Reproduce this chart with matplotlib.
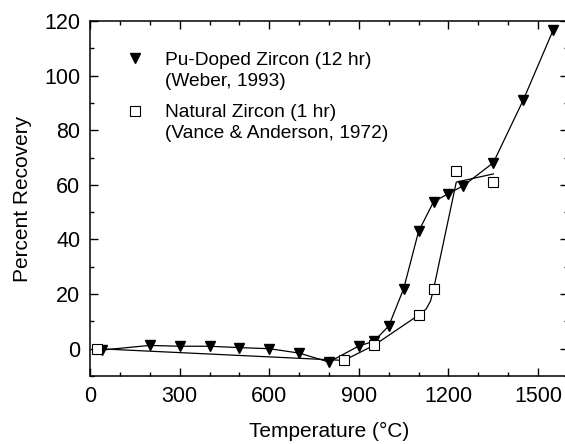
"""Percent recovery vs. annealing temperature for zircon."""

import matplotlib
matplotlib.use("Agg")
import matplotlib.pyplot as plt
from matplotlib.legend_handler import HandlerLine2D
from matplotlib.ticker import MultipleLocator

# Pu-doped zircon, 12 hr anneal (Weber, 1993)
pu_temp = [40, 200, 300, 400, 500, 600, 700, 800, 900, 950, 1000, 1050,
           1100, 1150, 1200, 1250, 1350, 1450, 1550]
pu_recovery = [-0.5, 1.2, 0.9, 0.9, 0.4, 0.0, -1.6, -4.9, 1.0, 2.7, 8.3, 22.0,
               43.0, 53.8, 56.8, 59.7, 68.1, 91.0, 116.6]

# natural zircon, 1 hr anneal (Vance & Anderson, 1972)
nat_temp = [25, 850, 950, 1100, 1150, 1225, 1350]
nat_recovery = [0.0, -4.3, 1.2, 12.3, 21.8, 65.0, 61.0]

# hand-drawn trend line through the natural zircon data
nat_fit_temp = [25, 850, 950, 1100, 1125, 1140, 1150, 1226, 1350]
nat_fit_recovery = [0.0, -4.3, 1.2, 12.3, 14.5, 17.5, 21.8, 61.0, 64.0]

plt.rcParams["font.family"] = ["Liberation Sans", "DejaVu Sans"]


class RaisedHandler(HandlerLine2D):
    """Puts the legend marker level with the first line of a two-line label."""

    def __init__(self, shift, **kw):
        super().__init__(**kw)
        self.shift = shift

    def create_artists(self, legend, orig_handle, xdescent, ydescent,
                       width, height, fontsize, trans):
        return super().create_artists(legend, orig_handle, xdescent,
                                      ydescent - self.shift, width, height,
                                      fontsize, trans)


fig = plt.figure(figsize=(5.65, 4.44), dpi=100)
ax = fig.add_axes([90 / 565, 1 - 376 / 444, 478 / 565, 355 / 444])

ax.plot(nat_fit_temp, nat_fit_recovery, color="black", lw=0.9)
ax.plot(pu_temp, pu_recovery, color="black", lw=0.9, marker="v", ms=7.5,
        mfc="black", mec="black")
nat_marks, = ax.plot(nat_temp, nat_recovery, ls="none", marker="s", ms=6.5,
                     mfc="white", mec="black", mew=0.8)
pu_key, = ax.plot([], [], ls="none", marker="v", ms=7.5, color="black")

ax.set_xlim(0, 1600)
ax.set_ylim(-10, 120)
ax.xaxis.set_major_locator(MultipleLocator(300))
ax.xaxis.set_minor_locator(MultipleLocator(100))
ax.yaxis.set_major_locator(MultipleLocator(20))
ax.yaxis.set_minor_locator(MultipleLocator(10))
ax.tick_params(which="both", direction="in", top=True, right=True,
               labelsize=15.5, pad=7)
ax.tick_params(which="major", length=5.5, width=1)
ax.tick_params(which="minor", length=3, width=1)
for s in ax.spines.values():
    s.set_linewidth(1.1)

ax.set_xlabel("Temperature (°C)", fontsize=15, labelpad=11)
ax.set_ylabel("Percent Recovery", fontsize=15, labelpad=9)

leg = ax.legend([pu_key, nat_marks],
                ["Pu-Doped Zircon (12 hr)\n(Weber, 1993)",
                 "Natural Zircon (1 hr)\n(Vance & Anderson, 1972)"],
                handler_map={pu_key: RaisedHandler(18),
                             nat_marks: RaisedHandler(18)},
                loc="upper left", bbox_to_anchor=(0.055, 0.94),
                frameon=False, fontsize=13.8, handlelength=1.0,
                handletextpad=1.05, labelspacing=0.76, borderpad=0)
for t in leg.get_texts():
    t.set_linespacing(1.3)

fig.savefig("out.png", dpi=100)
